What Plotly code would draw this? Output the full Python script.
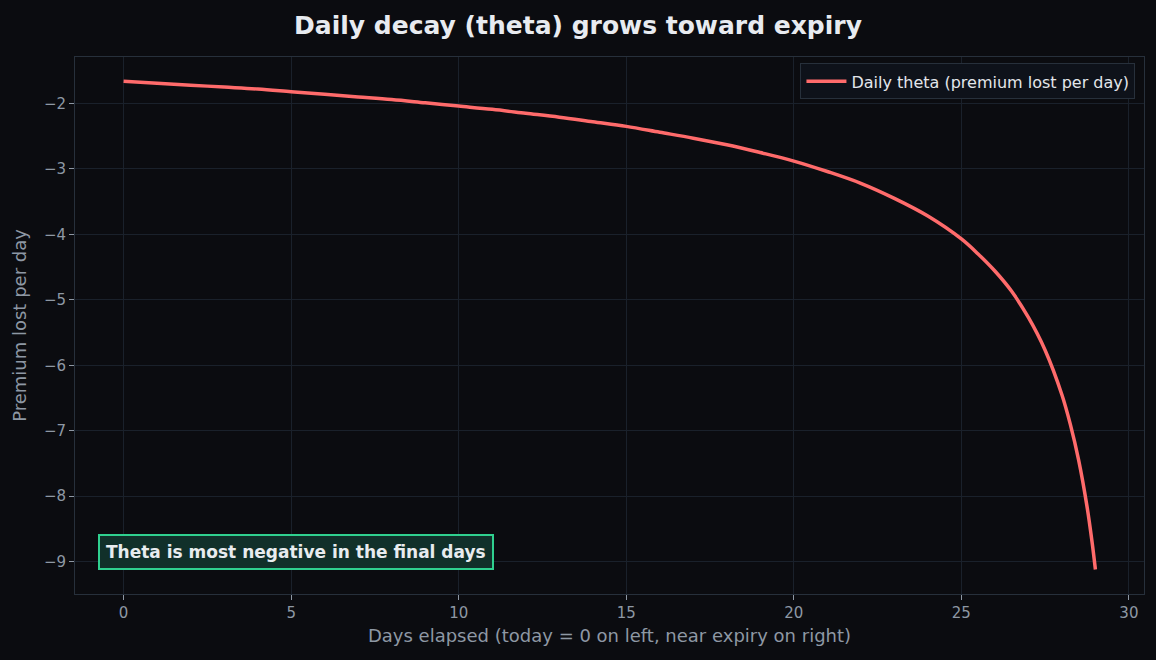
import plotly.graph_objects as go

days = [0, 1, 2, 3, 4, 5, 6, 7, 8, 9, 10, 11, 12, 13, 14, 15, 16, 17, 18, 19, 20,
        21, 22, 23, 24, 25, 25.5, 26, 26.5, 27, 27.5, 28, 28.25, 28.5, 28.75, 28.9, 29]
theta = [-1.66, -1.69, -1.72, -1.75, -1.78, -1.82, -1.86, -1.90, -1.94, -1.99, -2.04,
         -2.09, -2.15, -2.21, -2.28, -2.35, -2.44, -2.53, -2.63, -2.75, -2.88,
         -3.04, -3.22, -3.45, -3.72, -4.07, -4.30, -4.56, -4.87, -5.27, -5.77, -6.45,
         -6.90, -7.45, -8.16, -8.70, -9.12]

x_ticks = [0, 5, 10, 15, 20, 25, 30]
y_ticks = [-2, -3, -4, -5, -6, -7, -8, -9]

BG = "#0b0c10"
GRID = "#1a212b"
SPINE = "#27303b"
TICK = "#8e98a4"

fig = go.Figure()
fig.add_trace(go.Scatter(
    x=days, y=theta, mode="lines", name="Daily theta (premium lost per day)",
    line=dict(color="#ff6b6b", width=3.5), line_shape="spline",
))

fig.update_layout(
    width=1156, height=660,
    paper_bgcolor=BG, plot_bgcolor=BG,
    margin=dict(l=75, r=12, t=57, b=66),
    font=dict(family="DejaVu Sans", color=TICK, size=15),
    title=dict(text="<b>Daily decay (theta) grows toward expiry</b>",
               x=0.5, xanchor="center", y=0.962, yanchor="middle",
               font=dict(size=25, color="#e8ebf0")),
    showlegend=True,
    legend=dict(x=0.992, y=0.988, xanchor="right", yanchor="top",
                bgcolor="#0e121a", bordercolor=SPINE, borderwidth=1,
                itemwidth=40,
                font=dict(size=16, color="#e3e6eb")),
    annotations=[dict(
        text="<b>Theta is most negative in the final days</b>",
        xref="paper", yref="paper", x=0.0215, y=0.045,
        xanchor="left", yanchor="bottom", showarrow=False,
        font=dict(size=17, color="#e8ecef"),
        bgcolor="#11302a", bordercolor="#2fd08f", borderwidth=2, borderpad=6,
    )],
)

fig.update_xaxes(
    range=[-1.45, 30.45], tickvals=x_ticks, ticks="outside", ticklen=5,
    tickcolor=TICK, gridcolor=GRID, gridwidth=1, zeroline=False,
    showline=True, linecolor=SPINE, linewidth=1, mirror=True,
    tickfont=dict(size=15, color=TICK),
    title=dict(text="Days elapsed (today = 0 on left, near expiry on right)",
               font=dict(size=18, color=TICK), standoff=8),
)
fig.update_yaxes(
    range=[-9.495, -1.29], tickvals=y_ticks, ticks="outside", ticklen=5,
    tickcolor=TICK, gridcolor=GRID, gridwidth=1, zeroline=False,
    showline=True, linecolor=SPINE, linewidth=1, mirror=True,
    tickfont=dict(size=15, color=TICK),
    title=dict(text="Premium lost per day", font=dict(size=18, color=TICK), standoff=12),
)

fig.write_html("out.html")
